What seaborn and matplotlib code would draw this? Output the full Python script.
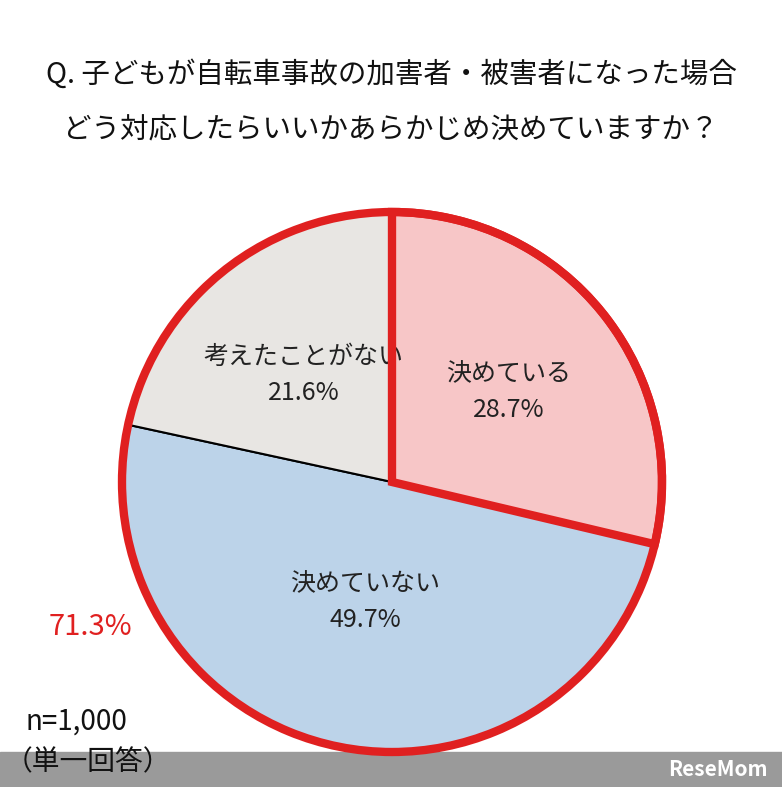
import matplotlib
matplotlib.use("Agg")
import matplotlib.pyplot as plt
import seaborn as sns
import numpy as np

labels = ["決めている", "決めていない", "考えたことがない"]
values = [28.7, 49.7, 21.6]
colors = ["#f7c6c7", "#bcd3e9", "#e8e6e3"]
title_lines = ["Q. 子どもが自転車事故の加害者・被害者になった場合", "どう対応したらいいかあらかじめ決めていますか？"]
combined_label = "71.3%"

sns.set_theme(style="white")
plt.rcParams['font.family'] = ['Noto Sans CJK JP', 'DejaVu Sans']

W, H = 782, 787
fig = plt.figure(figsize=(W/100, H/100), dpi=100)
ax = fig.add_axes([0, 0, 1, 1])

cx, cy, r = 392, H-482, 270
ax.add_patch(plt.Rectangle((0, 0), W, 35, color="#9a9a9a", zorder=0))

wedges, _ = ax.pie(values, colors=colors, startangle=90, counterclock=False,
                   center=(cx, cy), radius=r, frame=True,
                   wedgeprops=dict(edgecolor="black", linewidth=1.5))
# red outline of first slice
ow, _ = ax.pie([values[0], 100-values[0]], colors=["none", "none"], startangle=90,
               counterclock=False, center=(cx, cy), radius=r, frame=True,
               wedgeprops=dict(edgecolor="#e02020", linewidth=6, joinstyle='miter'))
ow[0].set_zorder(5); ow[1].set_edgecolor("none")
# red outer circle
cw, _ = ax.pie([100], colors=["none"], center=(cx, cy), radius=r, frame=True,
               wedgeprops=dict(edgecolor="#e02020", linewidth=6))
cw[0].set_zorder(5)
ax.set_xlim(0, W); ax.set_ylim(0, H); ax.set_aspect('equal'); ax.axis('off')

dists = [0.55, 0.45, 0.52]
ang = 90
for lab, v, d in zip(labels, values, dists):
    mid = np.deg2rad(ang - v*3.6/2)
    ang -= v*3.6
    x = cx + d*r*np.cos(mid); y = cy + d*r*np.sin(mid)
    ax.text(x, y+16, lab, ha='center', va='center', fontsize=18, color="#222")
    ax.text(x, y-20, f"{v}%", ha='center', va='center', fontsize=18, color="#222")

ax.text(W/2, H-75, title_lines[0], ha='center', va='center', fontsize=20.5, color="#111")
ax.text(W/2, H-130, title_lines[1], ha='center', va='center', fontsize=20.5, color="#111")
ax.text(90, H-627, combined_label, ha='center', va='center', fontsize=21, color="#e02020")
ax.text(25, H-722, "n=1,000", ha='left', va='center', fontsize=20, color="#111")
ax.text(5, H-762, "（単一回答）", ha='left', va='center', fontsize=20, color="#111")
ax.text(768, 17, "ReseMom", ha='right', va='center', fontsize=15, color="white", fontweight='bold')

fig.savefig("out.png", dpi=100)
